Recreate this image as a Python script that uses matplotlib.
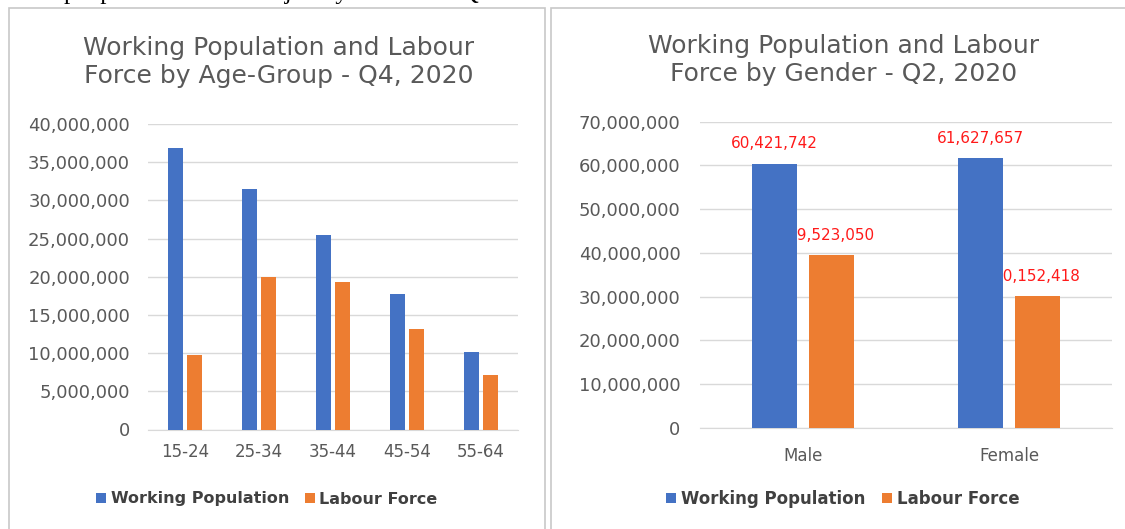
import numpy as np
import matplotlib.pyplot as plt
from matplotlib.patches import Rectangle
from matplotlib.ticker import FuncFormatter, MultipleLocator

# data
age_groups = ['15-24', '25-34', '35-44', '45-54', '55-64']
age_working = [36800000, 31500000, 25450000, 17800000, 10200000]
age_labour = [9750000, 20000000, 19300000, 13200000, 7200000]

genders = ['Male', 'Female']
gender_working = [60421742, 61627657]
gender_labour = [39523050, 30152418]

series_names = ['Working Population', 'Labour Force']
blue = '#4472C4'
orange = '#ED7D31'
grey_text = '#595959'
grid_col = '#d9d9d9'

W, H = 1125, 529
fig = plt.figure(figsize=(W / 100, H / 100), dpi=100)


def fx(px):
    return px / W


def fy(py):
    return 1 - py / H


# panel frames
for x0, x1 in [(9, 545), (551, 1135)]:
    fig.patches.append(Rectangle((fx(x0), fy(540)), fx(x1 - x0), (540 - 8) / H,
                                 transform=fig.transFigure, fill=False,
                                 edgecolor='#c8c8c8', lw=1.2))

# cut-off sentence from the page above the charts
fig.text(fx(-2), fy(-1), 'active people who were in a job by the end of Quarter 4 2020.',
         family='Liberation Serif', fontsize=18, color='black', va='baseline', ha='left')

comma = FuncFormatter(lambda v, p: '0' if v == 0 else f'{v:,.0f}')


def style_axis(ax, top, step, pad):
    ax.set_ylim(0, top)
    ax.yaxis.set_major_locator(MultipleLocator(step))
    ax.yaxis.set_major_formatter(comma)
    ax.grid(axis='y', color=grid_col, lw=1)
    ax.set_axisbelow(True)
    for s in ['top', 'right', 'left']:
        ax.spines[s].set_visible(False)
    ax.spines['bottom'].set_color(grid_col)
    ax.tick_params(axis='both', length=0, colors=grey_text)
    ax.tick_params(axis='y', labelsize=13, pad=pad)


# left chart: by age group
ax1 = fig.add_axes([fx(148), fy(429.5), fx(370), 305.5 / H])
x = np.arange(len(age_groups))
w = 0.2
ax1.bar(x - 0.13, age_working, w, color=blue, label=series_names[0], zorder=3)
ax1.bar(x + 0.13, age_labour, w, color=orange, label=series_names[1], zorder=3)
ax1.set_xlim(-0.5, len(age_groups) - 0.5)
ax1.set_xticks(x, age_groups)
style_axis(ax1, 40000000, 5000000, 13)
ax1.tick_params(axis='x', labelsize=12, pad=10)
fig.text(fx(279), fy(62), 'Working Population and Labour\nForce by Age-Group - Q4, 2020',
         ha='center', va='center', fontsize=18, color=grey_text, linespacing=1.2)
ax1.legend(loc='center', bbox_to_anchor=(fx(267), fy(499)), bbox_transform=fig.transFigure,
           ncol=2, frameon=False, handlelength=0.6, handleheight=0.6, handletextpad=0.3,
           columnspacing=1.0, prop={'size': 11.5, 'weight': 'bold'}, labelcolor='#404040')

# right chart: by gender
ax2 = fig.add_axes([fx(700), fy(428), fx(412), 306.3 / H])
x2 = np.arange(len(genders))
w2 = 0.218
b1 = ax2.bar(x2 - 0.138, gender_working, w2, color=blue, label=series_names[0], zorder=3)
b2 = ax2.bar(x2 + 0.138, gender_labour, w2, color=orange, label=series_names[1], zorder=3)
ax2.set_xlim(-0.5, len(genders) - 0.5)
ax2.set_xticks(x2, genders)
style_axis(ax2, 70000000, 10000000, 14)
ax2.tick_params(axis='x', labelsize=12, pad=14)
for bars in (b1, b2):
    for t in ax2.bar_label(bars, fmt='{:,.0f}', padding=9, color='#ff1a1a', fontsize=11):
        t.set_zorder(2)
fig.text(fx(844), fy(60), 'Working Population and Labour\nForce by Gender - Q2, 2020',
         ha='center', va='center', fontsize=18, color=grey_text, linespacing=1.2)
ax2.legend(loc='center', bbox_to_anchor=(fx(843), fy(499)), bbox_transform=fig.transFigure,
           ncol=2, frameon=False, handlelength=0.6, handleheight=0.6, handletextpad=0.3,
           columnspacing=1.0, prop={'size': 12, 'weight': 'bold'}, labelcolor='#404040')

fig.savefig('out.png', dpi=100)
